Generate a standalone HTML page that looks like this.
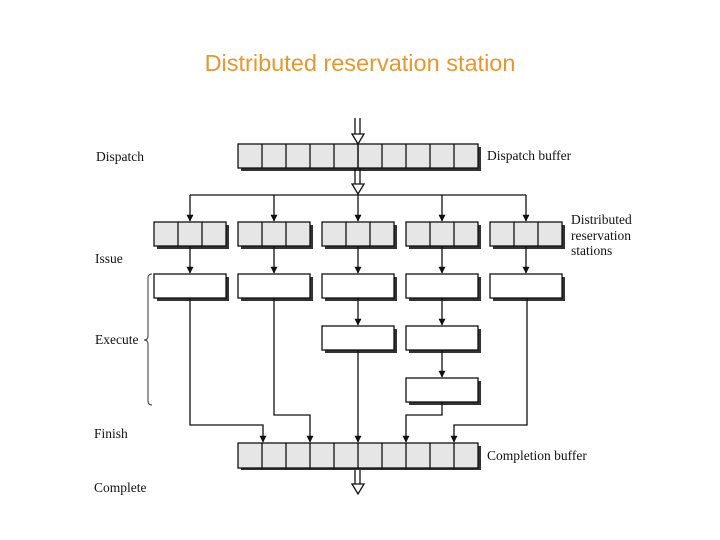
<!DOCTYPE html>
<html><head><meta charset="utf-8"><style>
html,body{margin:0;padding:0;background:#fff;}
svg{display:block;}
</style></head><body>
<svg width="720" height="540" viewBox="0 0 720 540" xmlns="http://www.w3.org/2000/svg">
<defs>
<marker id="a" viewBox="0 0 10 10" refX="9" refY="5" markerWidth="7" markerHeight="7" orient="auto" markerUnits="userSpaceOnUse"><path d="M0,0 L10,5 L0,10 z" fill="#111"/></marker>
</defs>
<text x="360" y="71" text-anchor="middle" font-family="Liberation Sans, sans-serif" font-size="23.5" fill="#e8962e">Distributed reservation station</text>
<g font-family="Liberation Serif, serif" font-size="13.5" fill="#111">
<text x="96" y="161">Dispatch</text>
<text x="95" y="263">Issue</text>
<text x="95" y="344">Execute</text>
<text x="94" y="438">Finish</text>
<text x="94" y="492">Complete</text>
<text x="487" y="160">Dispatch buffer</text>
<text x="487" y="460">Completion buffer</text>
<text x="571" y="224">Distributed</text>
<text x="571" y="240">reservation</text>
<text x="571" y="255">stations</text>
</g>
<path d="M152,274 Q148,274 148,278 L148,336 Q148,340 144,340 Q148,340 148,344 L148,401 Q148,405 152,405" fill="none" stroke="#333" stroke-width="1"/>
<g stroke="#111" stroke-width="1.3" fill="none">
<rect x="241" y="147" width="240" height="24" fill="#333" stroke="none"/>
<rect x="238" y="144" width="240" height="24" fill="#e6e6e6"/>
<path d="M262,144v24M286,144v24M310,144v24M334,144v24M358,144v24M382,144v24M406,144v24M430,144v24M454,144v24"/>
<rect x="241" y="446" width="240" height="24" fill="#333" stroke="none"/>
<rect x="238" y="443" width="240" height="25" fill="#e6e6e6"/>
<path d="M262,443v25M286,443v25M310,443v25M334,443v25M358,443v25M382,443v25M406,443v25M430,443v25M454,443v25"/>
<path d="M355,118v16M360,118v16M355,168v16M360,168v16M355,470v14M360,470v14"/>
<path d="M352,134L358,144L364,134z M352,184L358,194L364,184z M352,484L358,494L364,484z" fill="#fff"/>
<path d="M358,144v24"/>
<path d="M190,195H526"/>
<path d="M190,195V221" marker-end="url(#a)"/>
<path d="M274,195V221" marker-end="url(#a)"/>
<path d="M442,195V221" marker-end="url(#a)"/>
<path d="M526,195V221" marker-end="url(#a)"/>
<path d="M358,194V221" marker-end="url(#a)"/>
</g>
<g stroke="#111" stroke-width="1.3">
<g id="rs">
<rect x="157" y="225" width="72" height="24" fill="#333" stroke="none"/>
<rect x="154" y="222" width="72" height="24" fill="#e6e6e6"/>
<path d="M178,222v24M202,222v24"/>
</g>
<use href="#rs" x="84"/><use href="#rs" x="168"/><use href="#rs" x="252"/><use href="#rs" x="336"/>
<g id="eb">
<rect x="157" y="277" width="72" height="24" fill="#333" stroke="none"/>
<rect x="154" y="274" width="72" height="24" fill="#fff"/>
</g>
<use href="#eb" x="84"/><use href="#eb" x="168"/><use href="#eb" x="252"/><use href="#eb" x="336"/>
<use href="#eb" x="168" y="52"/><use href="#eb" x="252" y="52"/><use href="#eb" x="252" y="104"/>
</g>
<g stroke="#111" stroke-width="1.3" fill="none">
<path d="M190,246V273" marker-end="url(#a)"/>
<path d="M274,246V273" marker-end="url(#a)"/>
<path d="M358,246V273" marker-end="url(#a)"/>
<path d="M442,246V273" marker-end="url(#a)"/>
<path d="M526,246V273" marker-end="url(#a)"/>
<path d="M358,298V325" marker-end="url(#a)"/>
<path d="M442,298V325" marker-end="url(#a)"/>
<path d="M442,350V377" marker-end="url(#a)"/>
<path d="M190,298V425H263V442" marker-end="url(#a)"/>
<path d="M274,298V415H310V442" marker-end="url(#a)"/>
<path d="M358,350V442" marker-end="url(#a)"/>
<path d="M442,402V415H406V442" marker-end="url(#a)"/>
<path d="M527,298V425H454V442" marker-end="url(#a)"/>
</g>
</svg>
</body></html>
